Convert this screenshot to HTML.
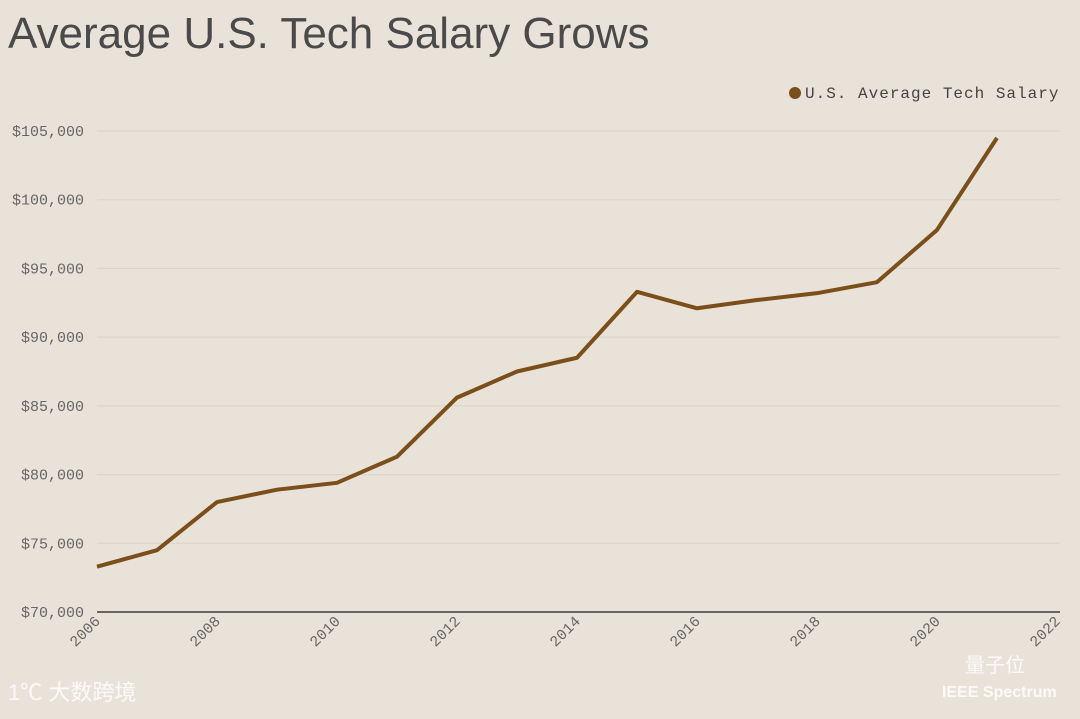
<!DOCTYPE html>
<html><head><meta charset="utf-8"><style>
body{margin:0;width:1080px;height:714px;background:#e9e2d9;overflow:hidden;font-family:"Liberation Sans",sans-serif}
</style></head><body>
<svg width="1080" height="714" id="chart">
<text x="8" y="48" font-size="44" fill="#4a4a4a" font-family="Liberation Sans, sans-serif">Average U.S. Tech Salary Grows</text>
<g>
<circle cx="795" cy="93" r="6" fill="#7a4f1a"/>
<text x="805" y="98" font-size="16" letter-spacing="1" fill="#444" font-family="Liberation Mono, monospace">U.S. Average Tech Salary</text>
</g>
<g id="grid"></g><g id="axes"></g>
<polyline id="line" fill="none" stroke="#7a4f1a" stroke-width="4" stroke-linejoin="round"/>
<text x="8" y="700" font-size="22" fill="#fff" opacity="0.85" font-family="Liberation Sans, Noto Sans CJK SC, sans-serif">1℃ 大数跨境</text>
<text x="965" y="672" font-size="20" fill="#fff" opacity="0.85" font-family="Liberation Sans, Noto Sans CJK SC, sans-serif">量子位</text>
<text x="942" y="697" font-size="16" font-weight="bold" fill="#fff" opacity="0.85">IEEE Spectrum</text>
</svg>
<script>
const years=[2006,2007,2008,2009,2010,2011,2012,2013,2014,2015,2016,2017,2018,2019,2020,2021];
const salaries=[73300,74500,78000,78900,79400,81300,85600,87500,88500,93300,92100,92700,93200,94000,97800,104500];
const yTicks=[70000,75000,80000,85000,90000,95000,100000,105000];
const xTicks=[2006,2008,2010,2012,2014,2016,2018,2020,2022];
const NS="http://www.w3.org/2000/svg";
const X=v=>97+(v-2006)*(1057-97)/16;
const Y=v=>612-(v-70000)*(612-131)/35000;
const grid=document.getElementById('grid'),axes=document.getElementById('axes');
function mk(t,a,p){const e=document.createElementNS(NS,t);for(const k in a)e.setAttribute(k,a[k]);p.appendChild(e);return e;}
yTicks.forEach(v=>{
 if(v>70000){const l=mk('line',{x1:97,x2:1060,y1:Y(v),y2:Y(v),stroke:'#d9d3ca','stroke-width':1},grid);
 
 }
 const t=mk('text',{x:84,y:Y(v)+5,'text-anchor':'end','font-size':15,fill:'#666','font-family':'Liberation Mono, monospace'},axes);
 t.textContent='$'+v.toLocaleString('en-US');
 
 
});
const ax=mk('line',{x1:97,x2:1060,y1:612,y2:612,stroke:'#666','stroke-width':2},axes);


xTicks.forEach(v=>{
 const x=X(v)+4,y=622;
 const t=mk('text',{x:x,y:y,'text-anchor':'end','font-size':15,fill:'#666','font-family':'Liberation Mono, monospace',transform:`rotate(-45 ${x} ${y})`},axes);
 t.textContent=v;
 
 
});
document.getElementById('line').setAttribute('points',years.map((y,i)=>X(y)+','+Y(salaries[i])).join(' '));
</script>
</body></html>
